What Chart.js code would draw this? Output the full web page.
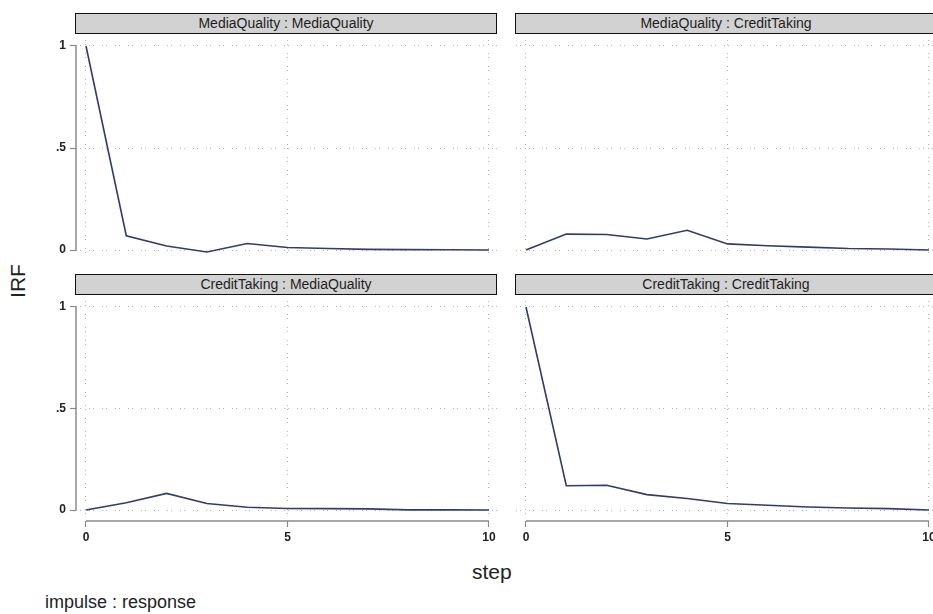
<!DOCTYPE html>
<html>
<head>
<meta charset="utf-8">
<script src="https://cdn.jsdelivr.net/npm/chart.js@4"></script>
<style>
  body { margin: 0; width: 933px; height: 614px; overflow: hidden; background: #fff; font-family: Arial, "Liberation Sans", sans-serif; position: relative; }
  canvas { position: absolute; }
  .strip { position: absolute; height: 19px; background: #d2d2d2; border: 1.5px solid #111; color: #1e1e1e; font-size: 14px; line-height: 19px; text-align: center; box-sizing: content-box; }
  .lbl { position: absolute; color: #222; white-space: nowrap; }
</style>
</head>
<body>
<div class="strip" style="left:75px; top:13px; width:420px;">MediaQuality : MediaQuality</div>
<div class="strip" style="left:515px; top:13px; width:420px;">MediaQuality : CreditTaking</div>
<div class="strip" style="left:75px; top:274px; width:420px;">CreditTaking : MediaQuality</div>
<div class="strip" style="left:515px; top:274px; width:420px;">CreditTaking : CreditTaking</div>

<div style="position:absolute; left:0; top:40px; width:497px; height:218px;"><canvas id="tl"></canvas></div>
<div style="position:absolute; left:516px; top:40px; width:420px; height:218px;"><canvas id="tr"></canvas></div>
<div style="position:absolute; left:0; top:301px; width:497px; height:251px;"><canvas id="bl"></canvas></div>
<div style="position:absolute; left:516px; top:301px; width:420px; height:251px;"><canvas id="br"></canvas></div>

<div class="lbl" style="left:-2px; top:269px; width:40px; height:24px; line-height:24px; font-size:21px; text-align:center; transform:rotate(-90deg);">IRF</div>
<div class="lbl" style="left:472px; top:560px; font-size:21px;">step</div>
<div class="lbl" style="left:45px; top:592px; font-size:18px;">impulse : response</div>

<script>
const steps = [0, 1, 2, 3, 4, 5, 6, 7, 8, 9, 10];
const mqOnMq = [1, 0.07, 0.02, -0.01, 0.032, 0.012, 0.007, 0.003, 0.002, 0.001, 0];
const mqOnCt = [0, 0.078, 0.076, 0.054, 0.097, 0.03, 0.021, 0.014, 0.007, 0.005, 0];
const ctOnMq = [0, 0.036, 0.082, 0.032, 0.014, 0.008, 0.007, 0.006, 0.001, 0.001, 0];
const ctOnCt = [1, 0.12, 0.122, 0.076, 0.057, 0.032, 0.024, 0.015, 0.01, 0.007, 0];
const xTicks = [0, 5, 10];
const yTicks = [0, 0.5, 1];

// draws the gapped stata style axis lines
const stataAxis = {
    id: 'stataAxis',
    afterDraw(chart, args, opts) {
        const ctx = chart.ctx;
        const area = chart.chartArea;
        const x = chart.scales.x, y = chart.scales.y;
        ctx.save();
        ctx.strokeStyle = '#8a8a8a';
        ctx.lineWidth = 1.5;
        if (opts.y) {
            ctx.beginPath();
            ctx.moveTo(area.left, y.getPixelForValue(1));
            ctx.lineTo(area.left, y.getPixelForValue(0));
            ctx.stroke();
        }
        if (opts.x) {
            ctx.beginPath();
            ctx.moveTo(x.getPixelForValue(0), area.bottom);
            ctx.lineTo(x.getPixelForValue(10), area.bottom);
            ctx.stroke();
        }
        ctx.restore();
    }
};

function makePanel(id, values, showY, showX, yMin, xMax) {
    const ctx = document.getElementById(id).getContext('2d');
    return new Chart(ctx, {
        type: 'line',
        data: {
            labels: steps,
            datasets: [{
                data: values.map((v, i) => ({ x: steps[i], y: v })),
                borderColor: '#2f3d6c',
                borderWidth: 1.6,
                pointRadius: 0,
                tension: 0,
                fill: false
            }]
        },
        options: {
            responsive: true,
            maintainAspectRatio: false,
            animation: false,
            layout: { padding: 0 },
            plugins: {
                legend: { display: false },
                tooltip: { enabled: false },
                stataAxis: { x: showX, y: showY }
            },
            scales: {
                x: {
                    type: 'linear',
                    min: -0.248,
                    max: xMax,
                    afterBuildTicks: s => { s.ticks = xTicks.map(v => ({ value: v })); },
                    afterFit: s => {
                        s.height = showX ? 31 : 0;
                        s.paddingLeft = 0; s.paddingRight = 0;
                    },
                    border: { display: false, dash: [1, 3, 1, 8] },
                    grid: {
                        color: '#b0b0b0',
                        drawTicks: showX,
                        tickLength: 6,
                        tickColor: '#8a8a8a',
                        tickWidth: 1.2,
                        tickBorderDash: []
                    },
                    ticks: {
                        display: showX,
                        padding: 3,
                        color: '#222',
                        font: { family: 'Arial, "Liberation Sans"', size: 12, weight: 'bold' }
                    }
                },
                y: {
                    min: yMin,
                    max: 1.0294,
                    afterBuildTicks: s => { s.ticks = yTicks.map(v => ({ value: v })); },
                    afterFit: s => {
                        s.width = showY ? 76 : 0;
                        s.paddingTop = 0; s.paddingBottom = 0;
                    },
                    border: { display: false, dash: [1, 3, 1, 8] },
                    grid: {
                        color: '#b0b0b0',
                        drawTicks: showY,
                        tickLength: 6,
                        tickColor: '#8a8a8a',
                        tickWidth: 1.2,
                        tickBorderDash: []
                    },
                    ticks: {
                        display: showY,
                        padding: 4,
                        color: '#222',
                        font: { family: 'Arial, "Liberation Sans"', size: 12, weight: 'bold' },
                        callback: v => v === 0.5 ? '.5' : String(v)
                    }
                }
            }
        },
        plugins: [stataAxis]
    });
}

makePanel('tl', mqOnMq, true, false, -0.0392, 10.199);
makePanel('tr', mqOnCt, false, false, -0.0392, 10.174);
makePanel('bl', ctOnMq, true, true, -0.0539, 10.199);
makePanel('br', ctOnCt, false, true, -0.0539, 10.174);
</script>
</body>
</html>
